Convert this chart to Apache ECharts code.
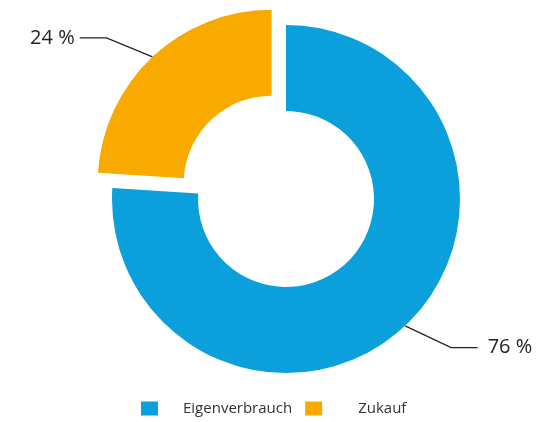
<!DOCTYPE html>
<html>
<head>
<meta charset="utf-8">
<script src="https://cdn.jsdelivr.net/npm/echarts@6/dist/echarts.min.js"></script>
<style>
  html, body { margin: 0; padding: 0; background: #fff; }
  #chart { width: 540px; height: 422px; }
</style>
</head>
<body>
<div id="chart"></div>
<script>
// Data
const categories = ['Eigenverbrauch', 'Zukauf'];
const values = [76, 24];
const labelTexts = ['76 %', '24 %'];
const colors = ['#0b9fdb', '#f9aa00'];
const explodedIndex = 1;

const chart = echarts.init(document.getElementById('chart'), null, { renderer: 'canvas' });

const labelGaps = [10, 5];
const lineLen1 = [30, 26];
const lineLen2 = [52, 55];
const data = categories.map((name, i) => ({
  name: name,
  value: values[i],
  selected: i === explodedIndex,
  itemStyle: { color: colors[i] },
  label: { formatter: labelTexts[i], distanceToLabelLine: labelGaps[i] },
  labelLine: { length: lineLen1[i], length2: lineLen2[i] }
}));

const legendPads = [20, 31];

chart.setOption({
  animation: false,
  backgroundColor: '#ffffff',
  legend: {
    data: categories.map((name, i) => ({
      name: name,
      textStyle: { padding: [0, 0, 0, legendPads[i]] }
    })),
    left: 141,
    top: 401,
    padding: 0,
    icon: 'rect',
    itemWidth: 17,
    itemHeight: 14,
    itemGap: 13,
    selectedMode: false,
    textStyle: {
      fontFamily: 'Open Sans',
      fontSize: 15,
      color: '#333'
    }
  },
  series: [{
    type: 'pie',
    center: [286, 199],
    radius: [88, 174],
    startAngle: 90,
    clockwise: true,
    selectedMode: 'single',
    selectedOffset: 21,
    avoidLabelOverlap: false,
    label: {
      show: true,
      position: 'outside',
      fontFamily: 'Open Sans',
      fontSize: 20,
      color: '#222'
    },
    labelLine: {
      show: true,
      length: 27,
      length2: 54,
      smooth: false,
      lineStyle: { color: '#222', width: 1.3 }
    },
    labelLayout: function (params) {
      const pts = params.labelLinePoints;
      if (!pts || pts.length < 3) return {};
      const s = pts[0];
      const end = pts[2];
      const dir = end[0] < s[0] ? -1 : 1;
      const elbow = [s[0] + dir * 46, end[1]];
      return {
        labelLinePoints: [s, elbow, end]
      };
    },
    emphasis: { disabled: true },
    data: data
  }]
});
</script>
</body>
</html>
